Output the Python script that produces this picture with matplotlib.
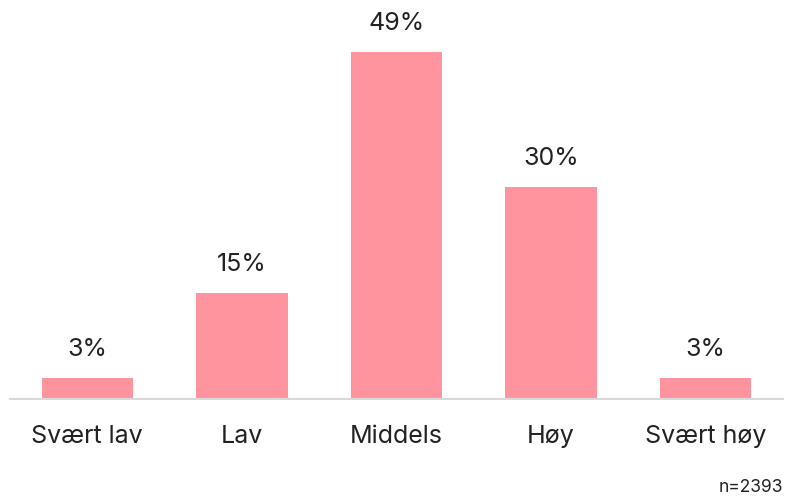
import matplotlib
matplotlib.use("Agg")
from matplotlib import pyplot as plt

categories = ["Svært lav", "Lav", "Middels", "Høy", "Svært høy"]
values = [3, 15, 49, 30, 3]
value_labels = ["3%", "15%", "49%", "30%", "3%"]
note = "n=2393"

plt.rcParams['font.family'] = ['Inter', 'DejaVu Sans']

fig = plt.figure(figsize=(7.93, 5.02), dpi=100)
ax = fig.add_axes([10 / 793, 102 / 502, 773 / 793, 389 / 502])

x = list(range(len(categories)))
bars = ax.bar(x, values, width=0.59, color="#FF949F")

for rect, lab in zip(bars, value_labels):
    ax.annotate(lab, (rect.get_x() + rect.get_width() / 2, rect.get_height()),
                xytext=(0, 13), textcoords="offset points",
                ha="center", va="bottom", fontsize=18, color="#222222")

ax.set_xlim(-0.5, len(categories) - 0.5)
ax.set_ylim(0, 55)
ax.set_xticks(x)
ax.set_xticklabels(categories, fontsize=18, color="#222222")
ax.tick_params(axis="x", length=0, pad=18)
ax.set_yticks([])
for side in ["left", "right", "top"]:
    ax.spines[side].set_visible(False)
ax.spines["bottom"].set_color("#D9D9D9")
ax.spines["bottom"].set_linewidth(1.5)

fig.text(783 / 793, 1 - 488 / 502, note, ha="right", va="center",
         fontsize=12.5, color="#222222")

fig.savefig("out.png", dpi=100)
